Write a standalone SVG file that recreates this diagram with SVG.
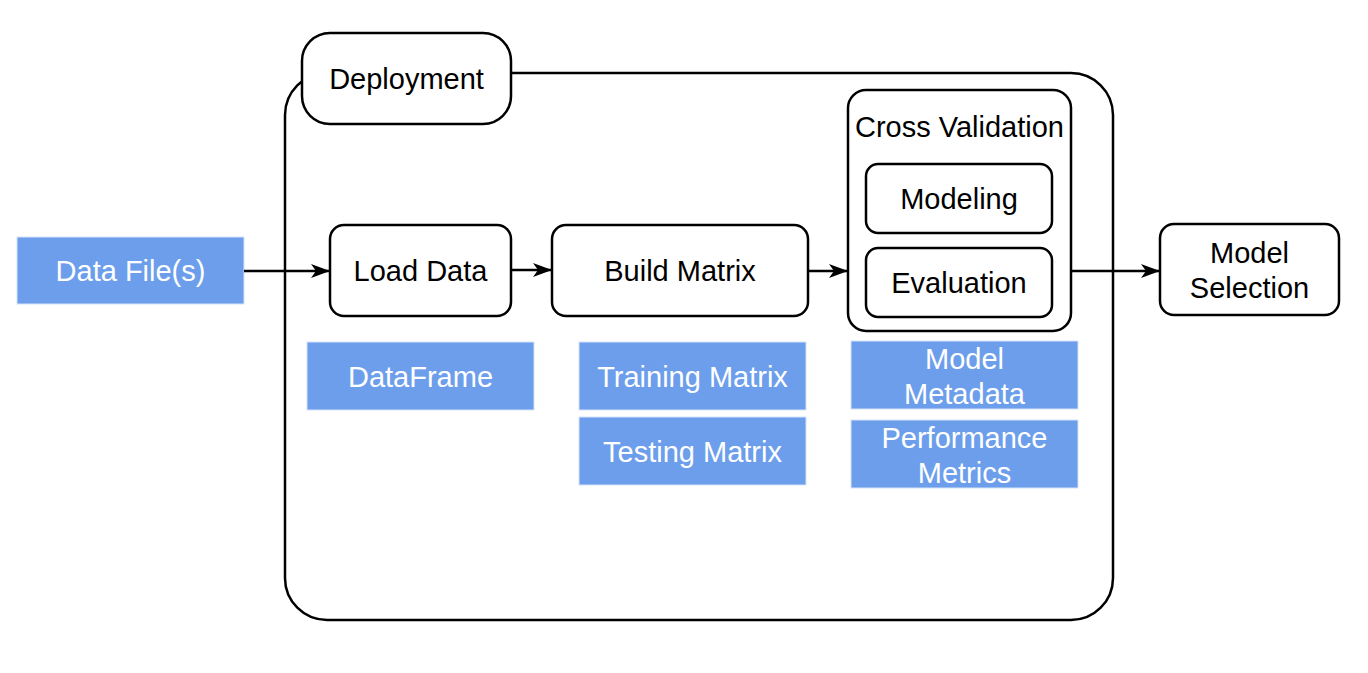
<svg xmlns="http://www.w3.org/2000/svg" width="1368" height="673" viewBox="0 0 1368 673">
<style>
.box{fill:#fff;stroke:#000;stroke-width:2.5}
.blue{fill:#6C9EEB;stroke:#D5E3F9;stroke-width:1}
.t{font-family:"Liberation Sans",Arial,sans-serif;font-size:29px;fill:#000;text-anchor:middle;dominant-baseline:central}
.w{fill:#fff}
.c{stroke:#000;stroke-width:2.5;fill:none}
</style>
<defs>
<marker id="arr" markerWidth="19" markerHeight="14" refX="18" refY="7" orient="auto" markerUnits="userSpaceOnUse">
<path d="M0,0 L19,7 L0,14 L5,7 Z" fill="#000"/>
</marker>
</defs>
<g id="deployment">
<rect class="box" x="285" y="73" width="828" height="547" rx="42"/>
<rect class="box" x="302" y="33" width="209" height="91" rx="28"/>
<text class="t" x="406.5" y="79">Deployment</text>
</g>
<g id="datafiles">
<rect class="blue" x="17" y="237" width="227" height="67"/>
<text class="t w" x="130.5" y="271">Data File(s)</text>
</g>
<g id="loaddata">
<rect class="box" x="330" y="225" width="181" height="91" rx="14"/>
<text class="t" x="420.5" y="271">Load Data</text>
</g>
<g id="buildmatrix">
<rect class="box" x="552" y="225" width="256" height="91" rx="14"/>
<text class="t" x="680" y="271">Build Matrix</text>
</g>
<g id="crossvalidation">
<rect class="box" x="848" y="90" width="223" height="241" rx="18"/>
<text class="t" x="959.5" y="127">Cross Validation</text>
</g>
<g id="modeling">
<rect class="box" x="866" y="164" width="186" height="69" rx="12"/>
<text class="t" x="959" y="199">Modeling</text>
</g>
<g id="evaluation">
<rect class="box" x="866" y="248" width="186" height="69" rx="12"/>
<text class="t" x="959" y="283">Evaluation</text>
</g>
<g id="modelselection">
<rect class="box" x="1160" y="224" width="179" height="91" rx="14"/>
<text class="t" x="1249.5" y="253">Model</text>
<text class="t" x="1249.5" y="288">Selection</text>
</g>
<g id="dataframe">
<rect class="blue" x="307" y="342" width="227" height="68"/>
<text class="t w" x="420.5" y="377">DataFrame</text>
</g>
<g id="trainingmatrix">
<rect class="blue" x="579" y="342" width="227" height="68"/>
<text class="t w" x="692.5" y="377">Training Matrix</text>
</g>
<g id="testingmatrix">
<rect class="blue" x="579" y="417" width="227" height="68"/>
<text class="t w" x="692.5" y="452">Testing Matrix</text>
</g>
<g id="modelmetadata">
<rect class="blue" x="851" y="341" width="227" height="68"/>
<text class="t w" x="964.5" y="359">Model</text>
<text class="t w" x="964.5" y="394">Metadata</text>
</g>
<g id="performancemetrics">
<rect class="blue" x="851" y="420" width="227" height="68"/>
<text class="t w" x="964.5" y="438">Performance</text>
<text class="t w" x="964.5" y="473">Metrics</text>
</g>
<g id="connectors">
<line class="c" x1="244" y1="271" x2="329" y2="271" marker-end="url(#arr)"/>
<line class="c" x1="511" y1="270" x2="551" y2="270" marker-end="url(#arr)"/>
<line class="c" x1="808" y1="271" x2="847" y2="271" marker-end="url(#arr)"/>
<line class="c" x1="1071" y1="271" x2="1159" y2="271" marker-end="url(#arr)"/>
</g>
</svg>
